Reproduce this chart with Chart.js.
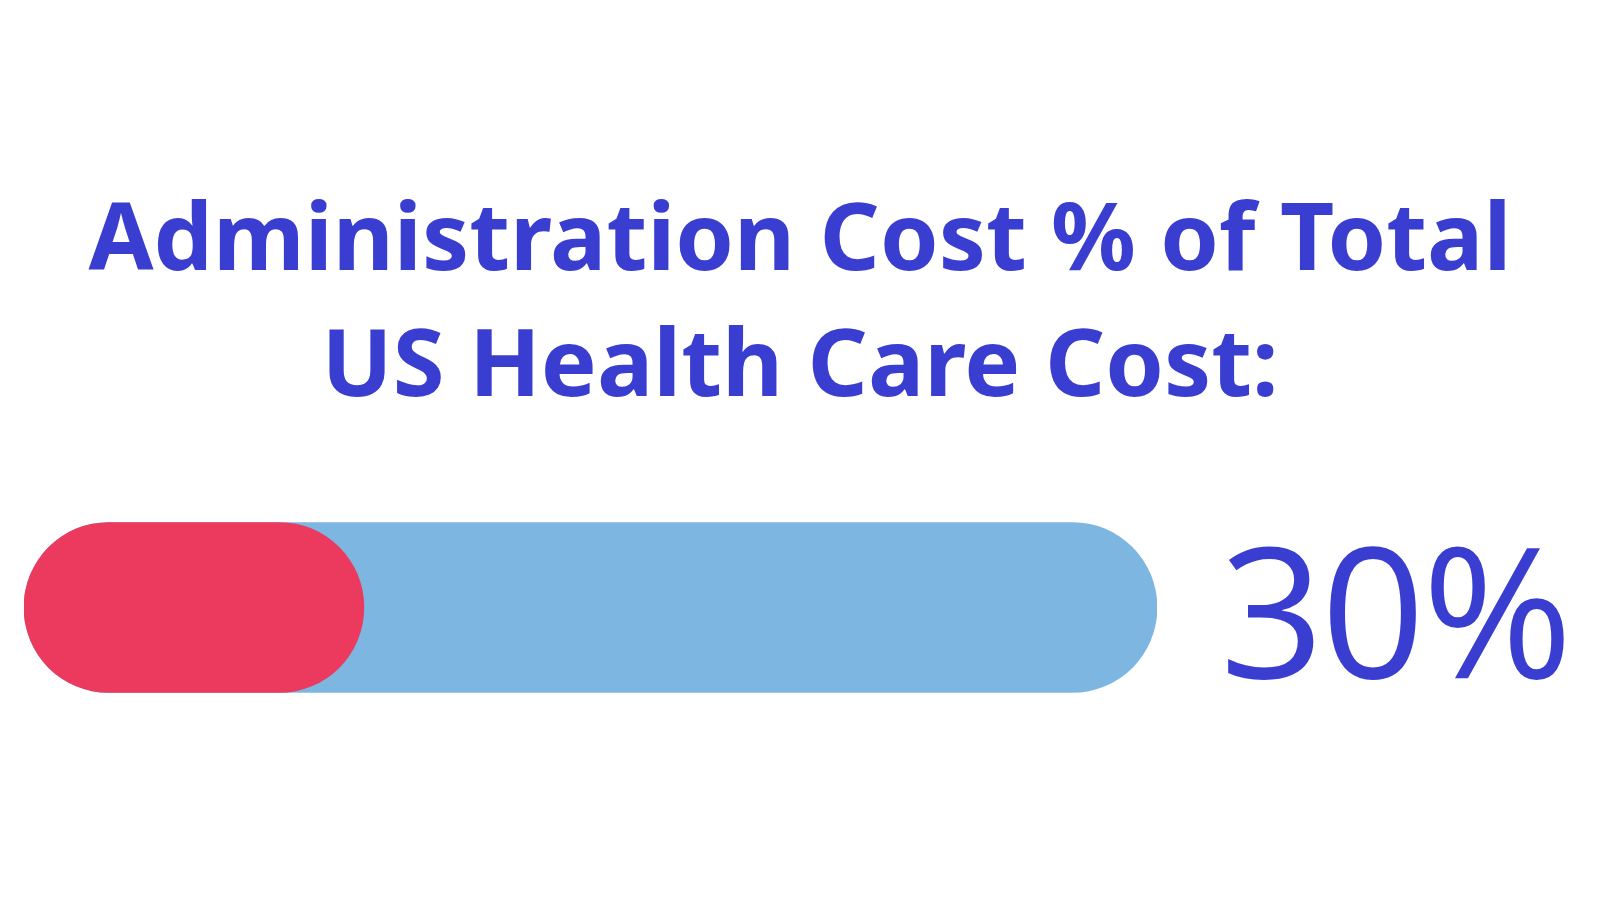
<!DOCTYPE html>
<html>
<head>
<meta charset="utf-8">
<script src="https://cdn.jsdelivr.net/npm/chart.js@4/dist/chart.umd.min.js"></script>
<style>
  html, body { margin: 0; padding: 0; background: #ffffff; }
  #wrap { width: 1600px; height: 900px; }
</style>
</head>
<body>
<div id="wrap"><canvas id="costChart"></canvas></div>
<script>
// chart data
const categories = ['Administration'];
const adminShare = [30];
const trackValues = [100];
const titleLines = ['Administration Cost % of Total', 'US Health Care Cost:'];

const textBlue = '#3a3ed0';

// draws the big value label to the right of the bar
const valueLabel = {
    id: 'valueLabel',
    afterDatasetsDraw(chart) {
        const ctx = chart.ctx;
        const area = chart.chartArea;
        const bar = chart.getDatasetMeta(0).data[0];
        ctx.save();
        ctx.fillStyle = textBlue;
        ctx.font = '400 182px "Open Sans"';
        ctx.letterSpacing = '-3px';
        ctx.textAlign = 'left';
        ctx.textBaseline = 'alphabetic';
        ctx.fillText(adminShare[0] + '%', area.right + 63, bar.y + 71);
        ctx.restore();
    }
};

new Chart(document.getElementById('costChart'), {
    type: 'bar',
    data: {
        labels: categories,
        datasets: [
            {
                label: 'Administration cost',
                data: adminShare,
                backgroundColor: '#ec3a5e',
                borderRadius: 85,
                borderSkipped: false,
                barThickness: 170,
                grouped: false,
                order: 0
            },
            {
                label: 'Total',
                data: trackValues,
                backgroundColor: '#7db6e0',
                borderRadius: 85,
                borderSkipped: false,
                barThickness: 170,
                grouped: false,
                order: 1
            }
        ]
    },
    options: {
        indexAxis: 'y',
        responsive: true,
        maintainAspectRatio: false,
        animation: false,
        layout: {
            padding: { left: 24, right: 24, top: 0, bottom: 205 }
        },
        scales: {
            x: { display: false, min: 0, max: 100 },
            y: {
                position: 'right',
                grid: { display: false },
                border: { display: false },
                ticks: { display: false },
                // empty axis keeps room for the value label
                afterFit: function(scale) { scale.width = 419; }
            }
        },
        plugins: {
            legend: { display: false },
            tooltip: { enabled: false },
            title: {
                display: true,
                text: titleLines,
                color: textBlue,
                font: { family: 'Noto Sans', weight: '700', size: 94, lineHeight: 1.34 },
                padding: { top: 180, bottom: 88 }
            }
        }
    },
    plugins: [valueLabel]
});
</script>
</body>
</html>
